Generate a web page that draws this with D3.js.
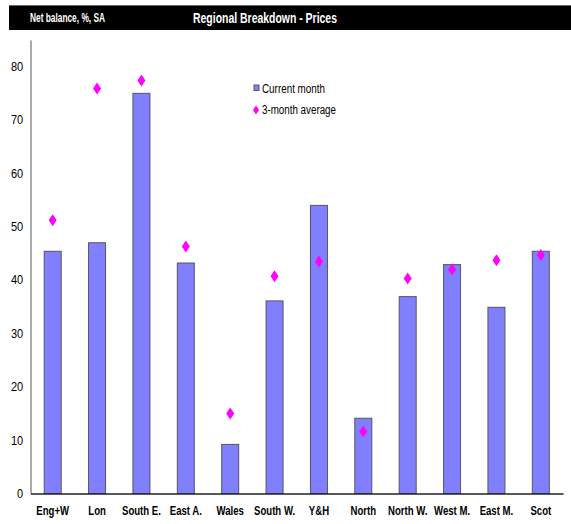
<!DOCTYPE html>
<html>
<head>
<meta charset="utf-8">
<script src="https://cdn.jsdelivr.net/npm/d3@7"></script>
<style>
  html, body { margin: 0; padding: 0; background: #fff; }
  svg { display: block; }
  text { font-family: "Liberation Sans", Arial, sans-serif; }
</style>
</head>
<body>
<svg id="chart" width="571" height="524"></svg>
<script>
// Regions and price balances
const regions = ["Eng+W", "Lon", "South E.", "East A.", "Wales", "South W.", "Y&H", "North", "North W.", "West M.", "East M.", "Scot"];
const currentMonth = [45.4, 47.0, 75.0, 43.2, 9.2, 36.1, 54.0, 14.1, 36.9, 42.9, 34.9, 45.4];
const threeMonthAvg = [51.2, 75.9, 77.4, 46.3, 15.0, 40.7, 43.5, 11.6, 40.3, 42.0, 43.7, 44.7];
const yTicks = [0, 10, 20, 30, 40, 50, 60, 70, 80];
const chartTitle = "Regional Breakdown - Prices";
const unitLabel = "Net balance, %, SA";
const seriesNames = ["Current month", "3-month average"];

const svg = d3.select("#chart");
const margin = { left: 30.5, right: 563, top: 40, bottom: 493.5 };

// Header band with condensed white text
svg.append("rect").attr("x", 9).attr("y", 5).attr("width", 562).attr("height", 25).attr("fill", "#000");
svg.append("line").attr("x1", 9).attr("x2", 571).attr("y1", 5.5).attr("y2", 5.5).attr("stroke", "#666").attr("stroke-width", 1);
svg.append("text").attr("x", 30).attr("y", 22)
  .attr("fill", "#fff").attr("font-size", 12).attr("font-weight", "bold")
  .attr("textLength", 75).attr("lengthAdjust", "spacingAndGlyphs").text(unitLabel);
svg.append("text").attr("x", 193).attr("y", 23)
  .attr("fill", "#fff").attr("font-size", 15).attr("font-weight", "bold")
  .attr("textLength", 144).attr("lengthAdjust", "spacingAndGlyphs").text(chartTitle);

const x = d3.scaleBand().domain(regions).range([margin.left, margin.right]).paddingInner(0).paddingOuter(0);
const y = d3.scaleLinear().domain([0, 85]).range([margin.bottom, margin.top]);

// Y axis
const yAxis = svg.append("g").attr("transform", `translate(${margin.left},0)`)
  .call(d3.axisLeft(y).tickValues(yTicks).tickSize(0).tickPadding(8));
yAxis.select(".domain").attr("stroke", "#aaa").attr("stroke-width", 2);
yAxis.selectAll("text").attr("font-size", 12).attr("fill", "#000")
  .attr("transform", "scale(0.92,1)");

// Bars
const barW = 17;
svg.append("g").selectAll("rect").data(regions).join("rect")
  .attr("x", d => x(d) + x.bandwidth() / 2 - barW / 2)
  .attr("y", (d, i) => y(currentMonth[i]))
  .attr("width", barW)
  .attr("height", (d, i) => y(0) - y(currentMonth[i]))
  .attr("fill", "#8080ff")
  .attr("stroke", "#555566")
  .attr("stroke-width", 1);

// X axis baseline and labels
const xAxis = svg.append("g").attr("transform", `translate(0,${margin.bottom})`)
  .call(d3.axisBottom(x).tickSize(0).tickPadding(13));
xAxis.select(".domain").attr("stroke", "#222").attr("stroke-width", 1.3);
xAxis.selectAll("text").attr("font-size", 12).attr("font-weight", "bold").attr("fill", "#000")
  .attr("transform", "scale(0.8,1)");

// Diamonds for the 3-month average
const diamond = (cx, cy, w, h) => `M${cx},${cy - h / 2}L${cx + w / 2},${cy}L${cx},${cy + h / 2}L${cx - w / 2},${cy}Z`;
svg.append("g").selectAll("path").data(regions).join("path")
  .attr("d", (d, i) => diamond(x(d) + x.bandwidth() / 2, y(threeMonthAvg[i]), 8, 12))
  .attr("fill", "#ff00ff");

// Legend
const lg = svg.append("g");
lg.append("rect").attr("x", 254).attr("y", 85).attr("width", 5).attr("height", 5.5)
  .attr("fill", "#8080ff").attr("stroke", "#555566").attr("stroke-width", 1);
lg.append("text").attr("x", 262).attr("y", 92.5).attr("font-size", 12).attr("fill", "#000")
  .attr("textLength", 63).attr("lengthAdjust", "spacingAndGlyphs").text(seriesNames[0]);
lg.append("path").attr("d", diamond(256, 110, 6, 9)).attr("fill", "#ff00ff");
lg.append("text").attr("x", 262).attr("y", 113.5).attr("font-size", 12).attr("fill", "#000")
  .attr("textLength", 74).attr("lengthAdjust", "spacingAndGlyphs").text(seriesNames[1]);
</script>
</body>
</html>
